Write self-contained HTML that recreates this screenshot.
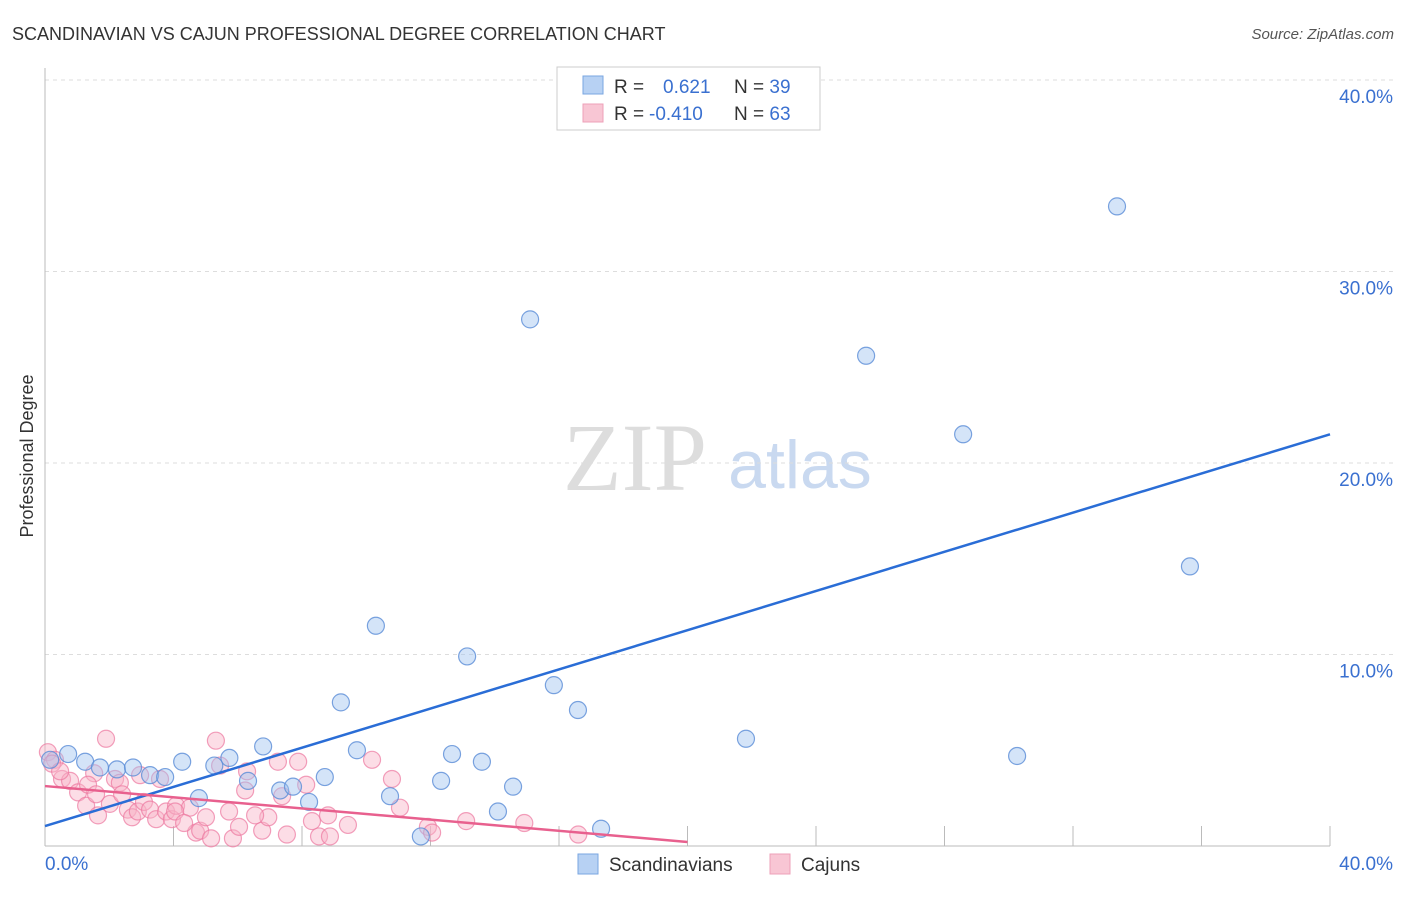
<!DOCTYPE html>
<html><head><meta charset="utf-8"><style>
body{margin:0;background:#fff;font-family:"Liberation Sans",sans-serif;}
</style></head><body>
<svg id="chart" width="1406" height="892" xmlns="http://www.w3.org/2000/svg" font-family="Liberation Sans, sans-serif">
<text x="12" y="40" font-size="18" fill="#333">SCANDINAVIAN VS CAJUN PROFESSIONAL DEGREE CORRELATION CHART</text>
<text x="1394" y="39" font-size="15" fill="#555" font-style="italic" text-anchor="end">Source: ZipAtlas.com</text>
<text transform="translate(33,456) rotate(-90)" font-size="18" fill="#333" text-anchor="middle">Professional Degree</text>
<g>
<text x="635" y="490" font-size="96" fill="#ddd" font-family="Liberation Serif, serif" text-anchor="middle">ZIP</text>
<text x="800" y="488" font-size="68" fill="#c9d9f0" text-anchor="middle">atlas</text>
</g>
<g id="grid"></g><g id="axes"></g><g id="pts"></g><g id="lines"></g>
<g>
<rect x="557" y="67" width="263" height="63" fill="#fff" stroke="#ccc"/>
<rect x="583" y="76" width="20" height="18" fill="#b7d1f3" stroke="#7aa6e0"/>
<rect x="583" y="104" width="20" height="18" fill="#f8c6d4" stroke="#eea0b8"/>
<text x="614" y="93" font-size="19" fill="#333">R = <tspan fill="#3a70d0" x="663">0.621</tspan><tspan fill="#333" x="734">N = </tspan><tspan fill="#3a70d0">39</tspan></text>
<text x="614" y="120" font-size="19" fill="#333">R = <tspan fill="#3a70d0" x="649">-0.410</tspan><tspan fill="#333" x="734">N = </tspan><tspan fill="#3a70d0">63</tspan></text>
</g>
<g>
<rect x="578" y="854" width="20" height="20" fill="#b7d1f3" stroke="#7aa6e0"/>
<text x="609" y="871" font-size="19" fill="#333">Scandinavians</text>
<rect x="770" y="854" width="20" height="20" fill="#f8c6d4" stroke="#eea0b8"/>
<text x="801" y="871" font-size="19" fill="#333">Cajuns</text>
</g>
</svg>
<script>
const yTicks=[10,20,30,40];
const yTickLabels=["10.0%","20.0%","30.0%","40.0%"];
const xTicks=[4,8,12,16,20,24,28,32,36,40];
const blueX=[0.16,0.72,1.25,1.71,2.24,2.74,3.27,3.74,4.27,4.79,5.27,5.74,6.32,6.79,7.32,7.72,8.22,8.71,9.21,9.71,10.3,10.74,11.7,12.33,12.67,13.14,13.6,14.1,14.57,15.1,15.84,16.59,17.31,21.82,25.56,28.58,30.26,33.37,35.64];
const blueY=[4.5,4.8,4.4,4.1,4.0,4.1,3.7,3.6,4.4,2.5,4.2,4.6,3.4,5.2,2.9,3.1,2.3,3.6,7.5,5.0,11.5,2.6,0.5,3.4,4.8,9.9,4.4,1.8,3.1,27.5,8.4,7.1,0.9,5.6,25.6,21.5,4.7,33.4,14.6];
const pinkX=[0.09,0.31,0.53,0.78,1.03,1.28,1.53,1.65,1.9,2.02,2.18,2.33,2.58,2.71,2.89,3.08,3.27,3.46,3.58,3.77,3.95,4.08,4.51,4.7,4.83,5.01,5.17,5.32,5.45,5.73,5.85,6.04,6.29,6.76,6.95,7.25,7.38,7.53,7.88,8.13,8.31,8.53,8.81,8.87,9.43,10.18,10.8,11.05,11.92,12.05,13.11,14.92,16.6,1.34,0.22,2.96,4.05,6.23,0.47,1.59,2.4,4.33,6.54];
const pinkY=[4.9,4.5,3.5,3.4,2.8,2.1,3.8,1.6,5.6,2.2,3.5,3.3,1.9,1.5,1.8,2.3,1.9,1.4,3.5,1.8,1.4,2.1,2.0,0.7,0.8,1.5,0.4,5.5,4.2,1.8,0.4,1.0,3.9,0.8,1.5,4.4,2.6,0.6,4.4,3.2,1.3,0.5,1.6,0.5,1.1,4.5,3.5,2.0,1.0,0.7,1.3,1.2,0.6,3.2,4.3,3.7,1.8,2.9,3.9,2.7,2.7,1.2,1.6];
const blueTrendX=[0,40],blueTrendY=[1.04,21.5];
const pinkTrendX=[0,20],pinkTrendY=[3.13,0.21];
const NS="http://www.w3.org/2000/svg";
const X0=45,X1=1330,Y0=846,Y40=80;
const sx=v=>X0+v/40*(X1-X0), sy=v=>Y0-v/40*(Y0-Y40);
function mk(tag,attrs,parent){const e=document.createElementNS(NS,tag);for(const k in attrs)e.setAttribute(k,attrs[k]);document.getElementById(parent).appendChild(e);return e;}
yTicks.forEach((t,i)=>{
 const l=mk('line',{x1:X0,x2:1394,y1:sy(t),y2:sy(t),stroke:'#ddd','stroke-dasharray':'4,4'},'grid');
 
 
 const tx=mk('text',{x:1393,y:sy(t)+23,'font-size':19,fill:'#3a70d0','text-anchor':'end'},'grid');
 tx.textContent=yTickLabels[i];
 
 
});
const ax=mk('line',{x1:X0,x2:X0,y1:68,y2:Y0,stroke:'#bbb'},'axes');


const bx=mk('line',{x1:X0,x2:X1,y1:Y0,y2:Y0,stroke:'#bbb'},'axes');


xTicks.forEach(t=>{
 const l=mk('line',{x1:sx(t),x2:sx(t),y1:826,y2:Y0,stroke:'#bbb'},'axes');
 
 
});
const xl0=mk('text',{x:45,y:870,'font-size':19,fill:'#3a70d0'},'axes');xl0.textContent='0.0%';


const xl1=mk('text',{x:1393,y:870,'font-size':19,fill:'#3a70d0','text-anchor':'end'},'axes');xl1.textContent='40.0%';


pinkX.forEach((v,i)=>{
 const c=mk('circle',{cx:sx(v),cy:sy(pinkY[i]),r:8.5,fill:'rgba(248,180,200,0.45)',stroke:'rgba(236,120,160,0.7)','stroke-width':1.2},'pts');
 
 
});
blueX.forEach((v,i)=>{
 const c=mk('circle',{cx:sx(v),cy:sy(blueY[i]),r:8.5,fill:'rgba(160,196,240,0.45)',stroke:'rgba(90,140,215,0.8)','stroke-width':1.2},'pts');
 
 
});
const bl=mk('line',{x1:sx(blueTrendX[0]),y1:sy(blueTrendY[0]),x2:sx(blueTrendX[1]),y2:sy(blueTrendY[1]),stroke:'#2a6dd6','stroke-width':2.5},'lines');


const pl=mk('line',{x1:sx(pinkTrendX[0]),y1:sy(pinkTrendY[0]),x2:sx(pinkTrendX[1]),y2:sy(pinkTrendY[1]),stroke:'#e8608e','stroke-width':2.5},'lines');


</script>
</body></html>
